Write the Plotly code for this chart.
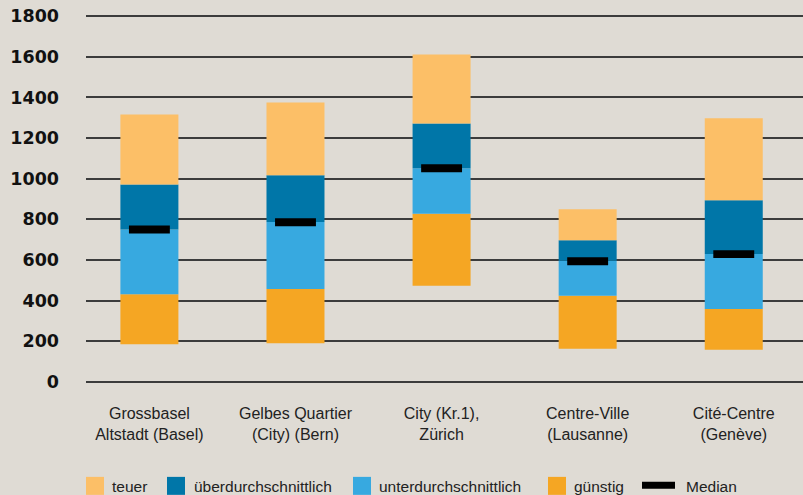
import plotly.graph_objects as go

# ---- data (CHF values) ----
regionen = [
    "Grossbasel<br>Altstadt (Basel)",
    "Gelbes Quartier<br>(City) (Bern)",
    "City (Kr.1),<br>Zürich",
    "Centre-Ville<br>(Lausanne)",
    "Cité-Centre<br>(Genève)",
]
minimum = [185, 190, 473, 164, 159]
grenze_guenstig = [432, 457, 827, 424, 359]
grenze_unter = [750, 787, 1051, 596, 629]
grenze_ueber = [972, 1017, 1272, 697, 894]
maximum = [1316, 1375, 1611, 850, 1297]
median = [750, 786, 1051, 594, 629]

y_ticks = [0, 200, 400, 600, 800, 1000, 1200, 1400, 1600, 1800]

# ---- style ----
BG = "#DFDBD4"
C_TEUER = "#FCBF67"
C_UEBER = "#0076A8"
C_UNTER = "#37A9E0"
C_GUENSTIG = "#F5A623"
C_MEDIAN = "#000000"

W, H = 803, 495
M_L, M_R, M_T, M_B = 86, 0, 11.5, 111
PLOT_H = H - M_T - M_B

x_idx = list(range(len(regionen)))

def diff(a, b):
    return [hi - lo for hi, lo in zip(a, b)]

fig = go.Figure()
segments = [
    ("günstig", minimum, grenze_guenstig, C_GUENSTIG),
    ("unterdurchschnittlich", grenze_guenstig, grenze_unter, C_UNTER),
    ("überdurchschnittlich", grenze_unter, grenze_ueber, C_UEBER),
    ("teuer", grenze_ueber, maximum, C_TEUER),
]
for name, lo, hi, col in segments:
    fig.add_trace(go.Bar(
        x=x_idx, y=diff(hi, lo), base=lo, name=name,
        marker=dict(color=col, line=dict(width=0)),
        width=0.397, showlegend=False,
        hovertemplate=name + ": %{base} – %{y}<extra></extra>",
    ))

MED_H = 39
fig.add_trace(go.Bar(
    x=x_idx, y=[MED_H] * len(median), base=[m - MED_H / 2 for m in median],
    name="Median", marker=dict(color=C_MEDIAN, line=dict(width=0)),
    width=0.28, showlegend=False,
    customdata=median, hovertemplate="Median: %{customdata}<extra></extra>",
))

# ---- manual legend (pixel positions -> paper coords) ----
def px_x(x):
    return (x - M_L) / (W - M_L - M_R)

def px_y(y):
    return (H - M_B - y) / PLOT_H

LEG_FONT = dict(family="Liberation Sans, Arial, sans-serif", size=15.5, color="#222222")
legend_items = [
    ("teuer", C_TEUER, 86, 110),
    ("überdurchschnittlich", C_UEBER, 167, 192),
    ("unterdurchschnittlich", C_UNTER, 353, 377),
    ("günstig", C_GUENSTIG, 548, 572),
]
shapes = []
annotations = []
for label, col, sx, tx in legend_items:
    shapes.append(dict(type="rect", xref="paper", yref="paper",
                       x0=px_x(sx), x1=px_x(sx + 18), y0=px_y(495), y1=px_y(477),
                       fillcolor=col, line=dict(width=0), layer="above"))
    annotations.append(dict(text=label, xref="paper", yref="paper",
                            x=px_x(tx), y=px_y(486.5), xanchor="left", yanchor="middle",
                            showarrow=False, font=LEG_FONT))
shapes.append(dict(type="rect", xref="paper", yref="paper",
                   x0=px_x(642), x1=px_x(675), y0=px_y(489), y1=px_y(482),
                   fillcolor=C_MEDIAN, line=dict(width=0), layer="above"))
annotations.append(dict(text="Median", xref="paper", yref="paper",
                        x=px_x(684), y=px_y(486.5), xanchor="left", yanchor="middle",
                        showarrow=False, font=LEG_FONT))

fig.update_layout(
    width=W, height=H,
    margin=dict(l=M_L, r=M_R, t=M_T, b=M_B, pad=0),
    paper_bgcolor=BG, plot_bgcolor=BG,
    barmode="overlay",
    showlegend=False,
    shapes=shapes,
    annotations=annotations,
    xaxis=dict(
        range=[-0.434, 4.474],
        tickmode="array", tickvals=x_idx, ticktext=regionen,
        showgrid=False, zeroline=False, showline=False, ticks="",
        ticklabelstandoff=18,
        tickfont=dict(family="Liberation Sans, Arial, sans-serif", size=16, color="#222222"),
    ),
    yaxis=dict(
        range=[-10, 1820],
        tickmode="array", tickvals=y_ticks, ticktext=[str(v) for v in y_ticks],
        showgrid=True, gridcolor="#3c3c3c", gridwidth=1.5,
        zeroline=False, showline=False, ticks="",
        ticklabelstandoff=26,
        tickfont=dict(family="DejaVu Sans", size=17.5, color="#111111", weight="bold"),
    ),
    font=dict(family="Liberation Sans, Arial, sans-serif"),
)

fig.write_html(
    "out.html",
    config={"displayModeBar": False},
    post_script="document.body.style.margin='0';document.body.style.background='" + BG + "';",
)
